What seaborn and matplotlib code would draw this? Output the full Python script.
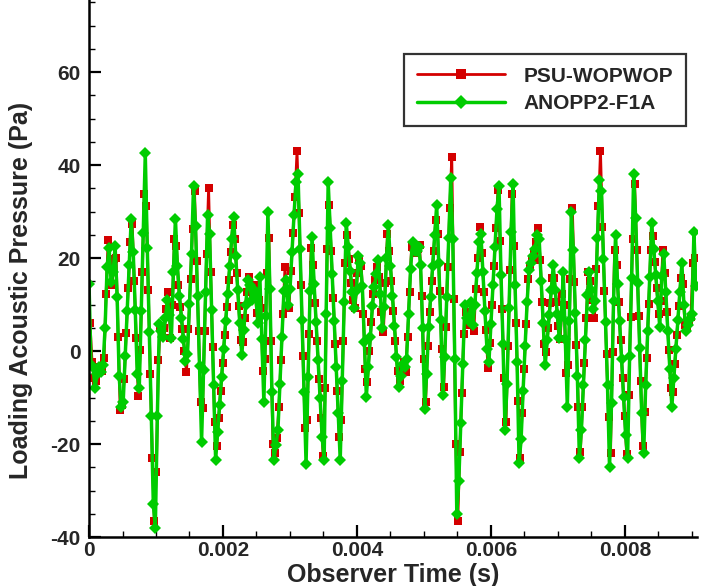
import numpy as np
import pandas as pd
import matplotlib
matplotlib.use("Agg")
import matplotlib.pyplot as plt
from matplotlib.ticker import MultipleLocator
import seaborn as sns

# ---- data ----
series_names = ["PSU-WOPWOP", "ANOPP2-F1A"]
time_step = 0.00003          # s, sample spacing of each series
psu_time_offset = 0.000015   # s, PSU-WOPWOP samples lie between ANOPP2 samples

anopp2_pressure = [
    14.5, -3.1, -3.5, -8, -5, -3.4, -4.6, -2.9, 5, 18.1,
    22.1, 14.9, 17, 22.5, 11.6, -5.4, -12, -11, -1.1, 8.7,
    18.6, 28.4, 21.2, 8.9, -5, -8, 8.6, 25.4, 42.5, 22.1,
    4.1, -14, -33, -38, -14, 5.8, 4.4, 3, 7, 11,
    7.7, 2.9, 17.1, 28.5, 18.2, 11.9, 7.2, 2.5, -2.2, -0.7,
    10.1, 20.9, 35.5, 26.9, 11.8, -3.3, -19.5, -4, 12.6, 29.2,
    25.1, 8.9, -7.2, -23.4, -17.4, -11.5, -5.5, 0.4, 6.4, 12.3,
    18.3, 24.2, 28.8, 20.4, 13.2, 6, -0.8, 4.6, 9.9, 15.3,
    14.3, 11, 13.1, 11.9, 6, 16, 2.5, -11, 7.5, 30,
    13.3, -8.9, -23.5, -20.3, -17, -7, 3, 13, 15.3, 9.8,
    13.3, 21.3, 29.2, 36.4, 38, 22, 6.6, -8.8, -24.2, -5.6,
    12.9, 24.5, 14.4, 6.2, -2, -10.2, -18.5, -23.5, 8, 36.4,
    26.4, 16.5, 6.5, -3.5, -13.4, -23.4, -6.4, 10.5, 27.5, 22.4,
    17.2, 12.6, 9.2, 13, 20.5, 19, 14, 2, -9.8, -3.4,
    3.1, 9.6, 13.7, 16.6, 19.6, 12.2, 4.9, 9.4, 20, 27,
    18.3, 11.8, 5.3, -1.2, -7.7, -5.3, -2.8, -3.5, -1.8, 7.9,
    17.6, 23.4, 21.6, 21.6, 22.4, 18.5, 5, -12.5, -5, 5.2,
    11.7, 18.3, 24.9, 31.4, 19, 6.7, -9.5, -1.3, 11.6, 24.4,
    37.2, 24.2, -1.8, -35, -28, -15.4, -2.8, 9.9, 7, 6.4,
    10.6, 5.7, 10, 16.7, 23.4, 25.1, 16.9, 8.6, 0.5, -2.3,
    5.9, 14.1, 22.3, 30.5, 35.5, 16.4, 1.6, -17, -7.1, 9.2,
    25.5, 36, 14.3, -2.3, -24, -19, -8.5, 1, 10.6, 17.5,
    19, 20.5, 22, 25, 24, 15, 6, -3, 2.4, 7.7,
    13.1, 18.4, 13.2, 8, 2.7, 7.4, 17, 2.5, -12, 6.4,
    30, 21.7, 8.1, -5.4, -23, -17, -7.3, 2.4, 12, 17.1,
    13.1, 9, 10.8, 24.4, 36.8, 34.5, 19.8, 6.2, -7.4, -25,
    -11.1, 10.8, 25, 14.5, 6.5, -1.7, -9.9, -18, -23, -1.1,
    15.7, 38, 28.7, 14.7, 0.6, -13.4, -22, -7.3, 4.3, 15.9,
    27.5, 21.9, 16.4, 10.8, 5.2, 16.2, 20.8, 12.6, 4.4, -3.8,
    -12, -5.8, 0.4, 6.6, 12.7, 18.9, 10, 4.4, 5.6, 6.8,
    8, 25.5, 14,
]

psu_pressure = [
    6, -2.3, -5.8, -6.5, -3.5, -4, -4.4, -1.4, 12.3, 23.8,
    18.5, 14.3, 19.8, 20, 3.1, -12.6, -11.5, -6.1, 3.8, 13.6,
    23.5, 27.4, 15.1, 2.7, -9.6, 0.2, 17, 33.8, 31.1, 13.1,
    -4.9, -23, -36.5, -26, -2, 5.1, 3.7, 5, 9, 12.8,
    2.9, 10, 24.2, 22.5, 14.2, 9.5, 4.8, 0.1, -4.6, 4.7,
    15.5, 26.3, 34.5, 19.4, 4.3, -10.9, -12.3, 4.3, 20.9, 35,
    17, 0.9, -15.3, -20.4, -14.5, -8.5, -2.5, 3.4, 9.4, 15.3,
    21.3, 27.2, 24, 16.8, 9.6, 2.4, 1.9, 7.2, 12.6, 15.9,
    12.6, 12, 14.1, 8.1, 11, 9.3, -4.3, -1.8, 16.7, 24.4,
    2.2, -20, -21.9, -18.6, -12, -2, 8, 18, 12.5, 9.3,
    17.3, 25.3, 33.2, 43, 29.7, 14.3, -1.1, -16.5, -14.9, 3.7,
    22.2, 18.5, 10.3, 2.1, -6.1, -14.4, -22.6, -8, 22, 31.4,
    21.5, 11.5, 1.5, -8.5, -18.4, -14.9, 2.1, 19, 24.9, 19.8,
    14.7, 10.9, 9.3, 16.8, 19.8, 18.3, 7.9, -3.8, -6.6, -0.1,
    6.3, 12.2, 15.2, 18.1, 15.9, 8.5, 4.2, 14.7, 25.2, 21.6,
    15.1, 8.6, 2.1, -4.4, -6.5, -4, -2.4, -4.6, 3.1, 12.7,
    22.4, 22.5, 21.1, 22, 22.9, 11.8, -1.8, -11, 1, 8.5,
    15, 21.6, 28.1, 25.2, 12.9, 0.5, -7.7, 5.2, 18, 30.8,
    41.8, 11.2, -20, -36.5, -21.7, -9.1, 3.6, 8.4, 5.5, 8.5,
    10.4, 4.4, 13.3, 20, 26.7, 21, 12.7, 4.6, -3.6, 1.8,
    10, 18.2, 26.4, 34.6, 23.7, 9, -5.7, -15.3, 1, 17.4,
    33.7, 22.6, 6, -10.7, -22.9, -13.3, -3.8, 5.8, 15.4, 18.3,
    19.8, 21.3, 23.5, 26.5, 19.5, 10.5, 1.5, -0.3, 5, 10.4,
    15.7, 15.8, 10.6, 5.4, 2.6, 12.2, 9.8, -4.8, -2.9, 15.5,
    30.7, 14.9, 1.4, -12.1, -21.8, -12.1, -2.5, 7.2, 16.9, 15.1,
    11, 7, 17.6, 31.2, 43, 26.6, 13, -0.6, -14.2, -22,
    -0.2, 21.7, 18.5, 10.5, 2.3, -5.8, -13.9, -22.1, -9.4, 7.3,
    24, 36, 21.7, 7.6, -6.4, -20.4, -13.1, -1.5, 10.1, 21.7,
    24.7, 19.1, 13.6, 8, 10.7, 21.7, 16.7, 8.5, 0.3, -7.9,
    -8.9, -2.7, 3.5, 9.6, 15.8, 14.4, 5.5, 5, 6.2, 7.4,
    19, 20,
]

x_ticks = [0, 0.002, 0.004, 0.006, 0.008]
x_tick_labels = ["0", "0.002", "0.004", "0.006", "0.008"]
y_ticks = [-40, -20, 0, 20, 40, 60]
y_tick_labels = ["-40", "-20", "0", "20", "40", "60"]
x_label = "Observer Time (s)"
y_label = "Loading Acoustic Pressure (Pa)"

anopp2_time = np.arange(len(anopp2_pressure)) * time_step
psu_time = np.arange(len(psu_pressure)) * time_step + psu_time_offset

df = pd.concat([
    pd.DataFrame({"t": psu_time, "p": psu_pressure, "code": series_names[0]}),
    pd.DataFrame({"t": anopp2_time, "p": anopp2_pressure, "code": series_names[1]}),
], ignore_index=True)

# ---- style ----
sns.set_style("white")
plt.rcParams["font.family"] = ["Liberation Sans", "DejaVu Sans"]
plt.rcParams["font.weight"] = "bold"

RED = "#d40000"
GREEN = "#00cc00"

fig = plt.figure(figsize=(7.02, 5.86), dpi=100)
ax = fig.add_axes([0.1268, 0.0836, 0.866, 0.9164])

sns.lineplot(data=df[df.code == series_names[0]], x="t", y="p", ax=ax,
             color=RED, linewidth=2.0, marker="s", markersize=6.0,
             markeredgewidth=0, label=series_names[0], sort=False,
             estimator=None)
sns.lineplot(data=df[df.code == series_names[1]], x="t", y="p", ax=ax,
             color=GREEN, linewidth=2.5, marker="D", markersize=6.6,
             markeredgewidth=0, label=series_names[1], sort=False,
             estimator=None)

ax.set_xlim(0, 0.009075)
ax.set_ylim(-40, 75.5)

ax.set_xticks(x_ticks)
ax.set_xticklabels(x_tick_labels)
ax.set_yticks(y_ticks)
ax.set_yticklabels(y_tick_labels)
ax.xaxis.set_minor_locator(MultipleLocator(0.0005))
ax.yaxis.set_minor_locator(MultipleLocator(5))

ax.tick_params(which="major", direction="in", length=8.5, width=1.6,
               labelsize=15, color="black", pad=5)
ax.tick_params(which="minor", direction="in", length=4.3, width=1.0,
               color="black")
ax.tick_params(axis="x", which="both", top=False, bottom=True, pad=3)
ax.tick_params(axis="y", which="both", right=False, left=True, pad=6)
for lab in ax.get_xticklabels() + ax.get_yticklabels():
    lab.set_fontweight("bold")

for side in ["top", "right"]:
    ax.spines[side].set_visible(False)
for side in ["left", "bottom"]:
    ax.spines[side].set_linewidth(1.8)
    ax.spines[side].set_color("black")

ax.set_xlabel(x_label, fontsize=18, fontweight="bold")
ax.set_ylabel(y_label, fontsize=18, fontweight="bold")
ax.xaxis.set_label_coords(0.5, -0.049)
ax.yaxis.set_label_coords(-0.092, 0.46)

leg = ax.legend(loc="upper right", bbox_to_anchor=(0.982, 0.9),
                prop={"size": 15, "weight": "bold", "family": "Liberation Sans"},
                frameon=True, fancybox=False, edgecolor="black",
                handlelength=4.2, handletextpad=0.9, borderpad=0.62,
                labelspacing=0.42, borderaxespad=0.0, numpoints=1,
                markerscale=1.1)
leg.get_frame().set_linewidth(1.6)

fig.savefig("out.png", dpi=100)
